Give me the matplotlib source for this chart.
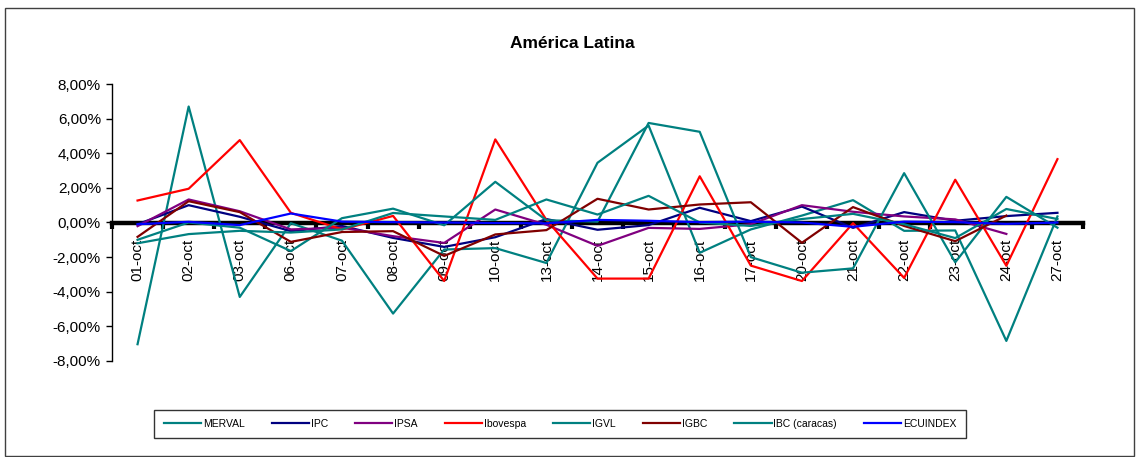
import numpy as np
import matplotlib
matplotlib.use("Agg")
import matplotlib.pyplot as plt
from matplotlib.ticker import FuncFormatter, FixedLocator
from matplotlib.patches import Rectangle

plt.rcParams['font.family'] = ['Liberation Sans', 'DejaVu Sans']

nan = np.nan

# daily variation (%), october
dates = ["01-oct", "02-oct", "03-oct", "06-oct", "07-oct", "08-oct", "09-oct", "10-oct",
         "13-oct", "14-oct", "15-oct", "16-oct", "17-oct", "20-oct", "21-oct", "22-oct",
         "23-oct", "24-oct", "27-oct"]

merval = [-7.03, 6.70, -4.30, -0.04, -1.05, -5.26, -1.56, -1.48, -2.34, 3.45,
          5.60, -1.75, -0.40, 0.40, 1.29, -0.48, -0.46, -6.84, 0.35]
ipc = [-0.10, 1.00, 0.33, -0.50, -0.20, -0.89, -1.41, -0.85, 0.20, -0.42,
       -0.15, 0.85, 0.08, 0.92, -0.31, 0.60, 0.10, 0.37, 0.56]
ipsa = [-0.21, 1.33, 0.65, -0.40, -0.30, -0.79, -1.18, 0.75, -0.13, -1.35,
        -0.31, -0.37, -0.10, 1.00, 0.62, 0.35, 0.18, -0.66, nan]
ibovespa = [1.27, 1.95, 4.76, 0.56, -0.40, 0.38, -3.38, 4.80, 0.15, -3.24,
            -3.24, 2.67, -2.49, -3.38, -0.04, -3.20, 2.47, -2.50, 3.66]
igvl = [-1.00, 0.00, -0.30, -1.65, 0.25, 0.80, -0.16, 2.35, 0.13, 0.05,
        5.75, 5.24, -2.00, -2.90, -2.65, 2.85, -2.30, 1.48, -0.30]
igbc = [-0.83, 1.23, 0.60, -1.12, -0.55, -0.50, -1.93, -0.69, -0.44, 1.37,
        0.75, 1.04, 1.17, -1.17, 0.89, -0.20, -1.08, 0.40, nan]
ibc = [-1.20, -0.67, -0.48, -0.58, -0.40, 0.55, 0.35, 0.15, 1.33, 0.46,
       1.54, 0.00, -0.20, 0.20, 0.50, -0.10, -0.90, 0.78, 0.20]
ecuindex = [-0.10, 0.04, -0.15, 0.52, 0.05, 0.02, 0.00, -0.03, -0.05, 0.15,
            0.10, 0.02, 0.05, 0.00, -0.25, 0.05, 0.02, -0.08, 0.00]

names = ["MERVAL", "IPC", "IPSA", "Ibovespa", "IGVL", "IGBC", "IBC (caracas)", "ECUINDEX"]
colors = ["#008080", "#000080", "#800080", "#FF0000", "#008080", "#800000", "#008080", "#0000FF"]
series = [merval, ipc, ipsa, ibovespa, igvl, igbc, ibc, ecuindex]

W, H = 1139, 457
fig = plt.figure(figsize=(W / 100, H / 100), dpi=100)

# chart area border
fig.patches.append(Rectangle((5 / W, 1 - 456 / H), 1129 / W, 448 / H, transform=fig.transFigure,
                             fill=False, edgecolor="#404040", linewidth=1.0))

ax = fig.add_axes([112 / W, 1 - 361 / H, (1083 - 112) / W, (361 - 84) / H])
x = np.arange(len(dates))
for name, vals, c in zip(names, series, colors):
    ax.plot(x, np.array(vals) / 100, color=c, lw=1.6, label=name, zorder=3)

ax.set_xlim(-0.5, len(dates) - 0.5)
ax.set_ylim(-0.08, 0.08)
ax.set_yticks(np.arange(-0.08, 0.0801, 0.02))
ax.yaxis.set_major_formatter(FuncFormatter(lambda v, p: f"{v * 100:.2f}%".replace(".", ",")))
ax.tick_params(axis="y", direction="out", length=4, width=1, labelsize=11, pad=4)

ax.spines["top"].set_visible(False)
ax.spines["right"].set_visible(False)
ax.spines["bottom"].set_position(("data", 0))
ax.spines["bottom"].set_linewidth(3.2)
ax.spines["bottom"].set_zorder(2)
ax.spines["left"].set_linewidth(1)

ax.set_xticks(x)
ax.set_xticklabels(dates, rotation=90, fontsize=11)
ax.tick_params(axis="x", which="major", length=0, pad=12)
ax.xaxis.set_minor_locator(FixedLocator(np.arange(-0.5, len(dates), 1.0)))
ax.tick_params(axis="x", which="minor", direction="out", length=4, width=3)
for lab in ax.get_xticklabels():
    lab.set_verticalalignment("top")

fig.text(572 / W, 1 - 44 / H, "América Latina", ha="center", va="center",
         fontsize=12.5, fontweight="bold")

leg = fig.legend(loc="center", bbox_to_anchor=(560 / W, 1 - 424 / H), ncol=8,
                 fontsize=7.5, frameon=True, fancybox=False, handlelength=3.6,
                 handletextpad=0.15, columnspacing=2.6, borderpad=0.9)
leg.get_frame().set_edgecolor("black")
leg.get_frame().set_linewidth(1.0)

fig.savefig("out.png", dpi=100)
